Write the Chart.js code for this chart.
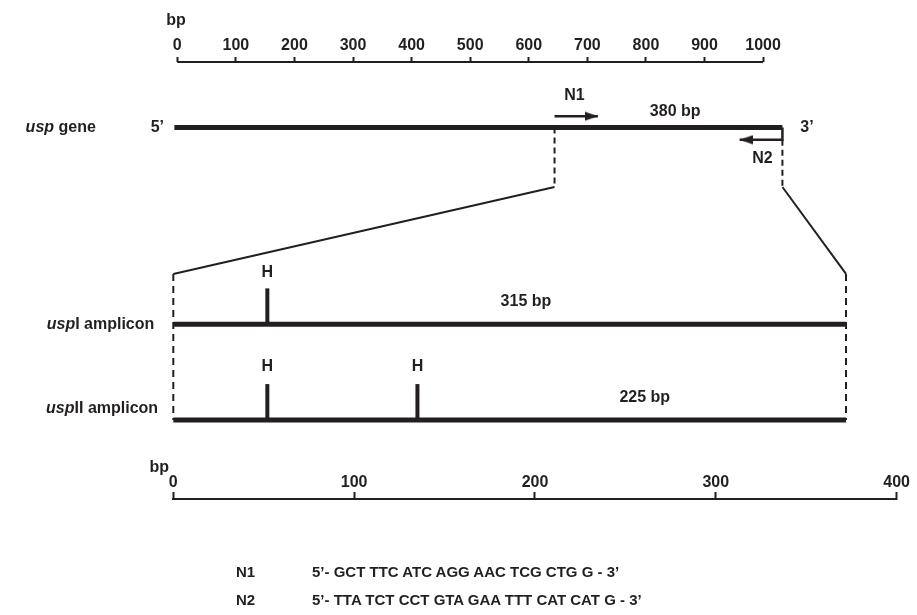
<!DOCTYPE html>
<html>
<head>
<meta charset="utf-8">
<script src="https://cdn.jsdelivr.net/npm/chart.js@4"></script>
<style>
  html, body { margin: 0; padding: 0; background: #fff; }
  #wrap { position: relative; width: 917px; height: 615px; overflow: hidden; }
  #chart { position: absolute; left: 0; top: 0; }
  .primer { position: absolute; font: bold 15px "Liberation Sans", Arial, sans-serif; color: #231f20; white-space: pre; line-height: 18px; }
</style>
</head>
<body>
<div id="wrap">
  <canvas id="chart" width="917" height="615"></canvas>
  <div class="primer" style="left:236px; top:563px;">N1</div>
  <div class="primer" style="left:312px; top:563px;">5’- GCT TTC ATC AGG AAC TCG CTG G - 3’</div>
  <div class="primer" style="left:236px; top:591px;">N2</div>
  <div class="primer" style="left:312px; top:591px;">5’- TTA TCT CCT GTA GAA TTT CAT CAT G - 3’</div>
</div>
<script>
// 目盛り (bp)
const geneTicks = [0, 100, 200, 300, 400, 500, 600, 700, 800, 900, 1000];
const ampTicks = [0, 100, 200, 300, 400];

// usp 遺伝子とプライマー (上の目盛りの bp)
const geneStart = -5;
const geneEnd = 1033;
const n1Primer = [644, 718];
const n2Primer = [1033, 960];

// アンプリコン (下の目盛りの bp)
const ampliconEnd = 372;
const hSitesI = [52];
const hSitesII = [52, 135];

// 行の高さ (y 軸 0-100)
const rowGene = 85;
const rowN1 = 87.6;
const rowN2 = 82.2;
const rowSplit = 71.4;
const rowAmpTop = 51.5;
const rowUspI = 40;
const rowUspII = 18.1;
const hMarkLen = 8.2;

// 二つの x 軸の範囲 (同じ描画領域を共有)
const topMin = -6.8, topMax = 1228;
const botMin = 0, botMax = 400;

const ink = '#231f20';
const fontFamily = '"Liberation Sans", Arial, sans-serif';

// 上の bp を下の bp に変換
function topToBot(v) {
    return (v - topMin) / (topMax - topMin) * (botMax - botMin) + botMin;
}

// 矢じり用の小さいキャンバス (中心が先端)
function makeArrowHead() {
    const c = document.createElement('canvas');
    c.width = 26;
    c.height = 10;
    const g = c.getContext('2d');
    g.fillStyle = ink;
    g.beginPath();
    g.moveTo(0, 0.5);
    g.lineTo(13, 5);
    g.lineTo(0, 9.5);
    g.closePath();
    g.fill();
    return c;
}
const arrowHead = makeArrowHead();

function seg(points, axis, width, dash, extra) {
    return Object.assign({
        data: points,
        xAxisID: axis,
        yAxisID: 'y',
        borderColor: ink,
        backgroundColor: ink,
        borderWidth: width,
        borderDash: dash || [],
        borderJoinStyle: 'miter',
        pointRadius: 0,
        showLine: true,
        fill: false,
        clip: false
    }, extra || {});
}

function arrow(points, rotation) {
    const last = points.length - 1;
    return seg(points, 'xTop', 2.5, null, {
        pointStyle: c => c.dataIndex === last ? arrowHead : 'circle',
        pointRadius: c => c.dataIndex === last ? 5 : 0,
        pointRotation: rotation
    });
}

const datasets = [
    // 上の目盛りの線
    seg([{x: geneTicks[0], y: 100}, {x: geneTicks[geneTicks.length - 1], y: 100}], 'xTop', 2),
    // usp 遺伝子
    seg([{x: geneStart, y: rowGene}, {x: geneEnd, y: rowGene}], 'xTop', 5),
    // N1, N2 プライマー
    arrow([{x: n1Primer[0], y: rowN1}, {x: n1Primer[1], y: rowN1}], 0),
    arrow([{x: n2Primer[0], y: rowGene}, {x: n2Primer[0], y: rowN2}, {x: n2Primer[1], y: rowN2}], 180),
    // 拡大の線
    seg([{x: n1Primer[0], y: rowGene}, {x: n1Primer[0], y: rowSplit}], 'xTop', 2, [6, 4]),
    seg([{x: n2Primer[0], y: rowN2}, {x: n2Primer[0], y: rowSplit}], 'xTop', 2, [6, 4]),
    seg([{x: topToBot(n1Primer[0]), y: rowSplit}, {x: 0, y: rowAmpTop}], 'xBot', 2),
    seg([{x: topToBot(n2Primer[0]), y: rowSplit}, {x: ampliconEnd, y: rowAmpTop}], 'xBot', 2),
    seg([{x: 0, y: rowAmpTop}, {x: 0, y: rowUspII}], 'xBot', 2, [7, 5]),
    seg([{x: ampliconEnd, y: rowAmpTop}, {x: ampliconEnd, y: rowUspII}], 'xBot', 2, [7, 5]),
    // アンプリコン
    seg([{x: 0, y: rowUspI}, {x: ampliconEnd, y: rowUspI}], 'xBot', 5),
    seg([{x: 0, y: rowUspII}, {x: ampliconEnd, y: rowUspII}], 'xBot', 5)
];

// H の印
hSitesI.forEach(h => datasets.push(seg([{x: h, y: rowUspI}, {x: h, y: rowUspI + hMarkLen}], 'xBot', 4)));
hSitesII.forEach(h => datasets.push(seg([{x: h, y: rowUspII}, {x: h, y: rowUspII + hMarkLen}], 'xBot', 4)));

// 文字 (軸, x, y, 揃え, 部分)
const labels = [
    {axis: 'xTop', x: -2, y: 109.4, align: 'center', parts: [['bp']]},
    {axis: 'xBot', x: -7.8, y: 7.1, align: 'center', parts: [['bp']]},
    {axis: 'xTop', x: -139, y: rowGene, align: 'right', parts: [['usp', true], [' gene']]},
    {axis: 'xTop', x: -34, y: rowGene, align: 'center', parts: [['5’']]},
    {axis: 'xTop', x: 1075, y: rowGene, align: 'center', parts: [['3’']]},
    {axis: 'xTop', x: 678, y: 92.4, align: 'center', parts: [['N1']]},
    {axis: 'xTop', x: 850, y: 88.6, align: 'center', parts: [['380 bp']]},
    {axis: 'xTop', x: 999, y: 78, align: 'center', parts: [['N2']]},
    {axis: 'xBot', x: hSitesI[0], y: 51.9, align: 'center', parts: [['H']]},
    {axis: 'xBot', x: hSitesII[0], y: 30.2, align: 'center', parts: [['H']]},
    {axis: 'xBot', x: hSitesII[1], y: 30.2, align: 'center', parts: [['H']]},
    {axis: 'xBot', x: 195, y: 45.1, align: 'center', parts: [['315 bp']]},
    {axis: 'xBot', x: 260.7, y: 23.3, align: 'center', parts: [['225 bp']]},
    {axis: 'xBot', x: -10.5, y: rowUspI, align: 'right', parts: [['usp', true], ['I amplicon']]},
    {axis: 'xBot', x: -8.4, y: 20.8, align: 'right', parts: [['usp', true], ['II amplicon']]}
];

const labelPlugin = {
    id: 'diagramLabels',
    afterDraw(chart) {
        const ctx = chart.ctx;
        ctx.save();
        ctx.fillStyle = ink;
        ctx.textBaseline = 'middle';
        ctx.textAlign = 'left';
        labels.forEach(l => {
            const px = chart.scales[l.axis].getPixelForValue(l.x);
            const py = chart.scales.y.getPixelForValue(l.y);
            const fonts = l.parts.map(p => (p[1] ? 'italic ' : '') + 'bold 16px ' + fontFamily);
            let total = 0;
            const widths = l.parts.map((p, i) => {
                ctx.font = fonts[i];
                const w = ctx.measureText(p[0]).width;
                total += w;
                return w;
            });
            let x = l.align === 'right' ? px - total : l.align === 'center' ? px - total / 2 : px;
            l.parts.forEach((p, i) => {
                ctx.font = fonts[i];
                ctx.fillText(p[0], x, py);
                x += widths[i];
            });
        });
        ctx.restore();
    }
};

const tickFont = {family: fontFamily, size: 16, weight: 'bold'};

new Chart(document.getElementById('chart'), {
    type: 'scatter',
    data: {datasets: datasets},
    options: {
        responsive: false,
        animation: false,
        events: [],
        layout: {padding: {left: 173.3, right: 13.7, top: 0, bottom: 100}},
        plugins: {legend: {display: false}, tooltip: {enabled: false}},
        scales: {
            xTop: {
                type: 'linear',
                axis: 'x',
                position: 'top',
                min: topMin,
                max: topMax,
                afterBuildTicks: s => { s.ticks = geneTicks.map(v => ({value: v})); },
                afterFit: s => { s.height = 62; },
                border: {display: false},
                grid: {drawOnChartArea: false, drawTicks: true, tickLength: 5, tickWidth: 2, tickColor: ink},
                ticks: {font: tickFont, color: ink, padding: 2, maxRotation: 0, autoSkip: false, callback: v => String(v)}
            },
            xBot: {
                type: 'linear',
                axis: 'x',
                position: 'bottom',
                min: botMin,
                max: botMax,
                afterBuildTicks: s => { s.ticks = ampTicks.map(v => ({value: v})); },
                afterFit: s => { s.height = 16; },
                border: {display: true, color: ink, width: 2},
                grid: {drawOnChartArea: false, drawTicks: true, tickLength: -7, tickWidth: 2, tickColor: ink},
                ticks: {mirror: true, font: tickFont, color: ink, padding: 7, maxRotation: 0, autoSkip: false, callback: v => String(v)}
            },
            y: {
                type: 'linear',
                display: false,
                min: 0,
                max: 100
            }
        }
    },
    plugins: [labelPlugin]
});
</script>
</body>
</html>
